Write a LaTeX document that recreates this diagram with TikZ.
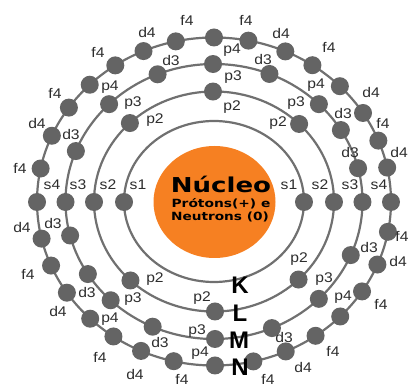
\documentclass[tikz,border=0pt]{standalone}
\usepackage{fontspec}
\usepackage{graphicx}
\setmainfont{Liberation Sans}
\newfontfamily\nucfont{DejaVu Sans}
\usetikzlibrary{shapes.geometric}
\definecolor{orbitgray}{RGB}{112,112,112}
\definecolor{dotgray}{RGB}{100,100,100}
\definecolor{nucorange}{RGB}{246,128,34}
\definecolor{labgray}{RGB}{45,45,45}
\tikzset{
  orbit/.style={draw=orbitgray, line width=2.2pt},
  dot/.style={circle, fill=dotgray, minimum size=18pt, inner sep=0pt},
  lab/.style={inner sep=0pt, text=labgray, font=\fontsize{14}{14}\selectfont},
  shellname/.style={inner sep=0pt, text=black, font=\bfseries\fontsize{24}{24}\selectfont},
  nuctext/.style={inner sep=0pt, text=black},
}
\def\cx{214}
\def\cy{201.5}
% name, rx, ry, x, y, label x, label y, text
\newcommand\elec[8]{%
  \pgfmathsetmacro\eang{atan2((#5-\cy)/#3,(#4-\cx)/#2)}%
  \pgfmathsetmacro\epx{\cx+#2*cos(\eang)}%
  \pgfmathsetmacro\epy{\cy+#3*sin(\eang)}%
  \node[dot] (#1) at (\epx,\epy) {};
  \node[lab] (#1l) at (#6,#7) {\scalebox{1.12}[1]{#8}};
}
\newcommand\Kel[6]{\elec{#1}{90}{80.5}{#2}{#3}{#4}{#5}{#6}}
\newcommand\Lel[6]{\elec{#1}{120}{110}{#2}{#3}{#4}{#5}{#6}}
\newcommand\Mel[6]{\elec{#1}{148.5}{137.5}{#2}{#3}{#4}{#5}{#6}}
\newcommand\Nel[6]{\elec{#1}{177}{164}{#2}{#3}{#4}{#5}{#6}}
\begin{document}
\begin{tikzpicture}[x=1pt,y=-1pt]
\useasboundingbox (0,0) rectangle (412,387);
% orbits
\draw[orbit] (\cx,\cy) ellipse [x radius=90, y radius=80.5];
\draw[orbit] (\cx,\cy) ellipse [x radius=120, y radius=110];
\draw[orbit] (\cx,\cy) ellipse [x radius=148.5, y radius=137.5];
\draw[orbit] (\cx,\cy) ellipse [x radius=177, y radius=164];
% nucleus
\node[ellipse, fill=nucorange, minimum width=122pt, minimum height=112pt, inner sep=0pt] (nucleus) at (214.5,202) {};
\node[nuctext, font=\nucfont\bfseries\fontsize{20.5}{20}\selectfont] (nt1) at (221,184) {\scalebox{1.27}[1]{Núcleo}};
\node[nuctext, font=\nucfont\bfseries\fontsize{11.3}{11}\selectfont] (nt2) at (221,203.5) {\scalebox{1.22}[1]{Prótons(+) e}};
\node[nuctext, font=\nucfont\bfseries\fontsize{11.3}{11}\selectfont] (nt3) at (220,216.5) {\scalebox{1.21}[1]{Neutrons (0)}};
% K shell
\Kel{k1}{125}{202}{138}{185}{s1}
\Kel{k2}{305}{202}{289}{185}{s1}
% L shell
\Lel{l1}{93}{202}{108}{185}{s2}
\Lel{l2}{334}{202}{320}{185}{s2}
\Lel{l3}{213}{92}{232}{107}{p2}
\Lel{l4}{132}{125}{155}{120}{p2}
\Lel{l5}{298}{125}{278}{123}{p2}
\Lel{l6}{132}{279}{155}{279}{p2}
\Lel{l7}{298}{279}{299}{259}{p2}
\Lel{l8}{215}{312}{202}{298}{p2}
% M shell
\Mel{m1}{65}{202}{78}{185}{s3}
\Mel{m2}{362}{202}{350}{185}{s3}
\Mel{m3}{213}{63}{233}{77}{p3}
\Mel{m4}{110}{105}{133}{103}{p3}
\Mel{m5}{157}{73}{171}{60}{d3}
\Mel{m6}{73}{150}{71}{134}{d3}
\Mel{m7}{269}{75}{263}{59}{d3}
\Mel{m8}{318}{105}{296}{103}{p3}
\Mel{m9}{341}{130}{343}{113}{d3}
\Mel{m10}{359}{168}{350}{152}{d3}
\Mel{m11}{68}{236}{53}{223}{d3}
\Mel{m12}{88}{274}{87}{292}{d3}
\Mel{m13}{112}{299}{133}{299}{p3}
\Mel{m14}{153}{326}{160}{342}{d3}
\Mel{m15}{215}{338}{197}{331}{p3}
\Mel{m16}{271}{326}{284}{337}{d3}
\Mel{m17}{319}{299}{324}{279}{p3}
\Mel{m18}{348}{254}{369}{247}{d3}
% N shell
\Nel{n1}{38}{202}{52}{185}{s4}
\Nel{n2}{390}{202}{379}{185}{s4}
\Nel{n3}{214}{36}{232}{50}{p4}
\Nel{n4}{175}{38}{187}{20}{f4}
\Nel{n5}{143}{50}{147}{32}{d4}
\Nel{n6}{115}{65}{98}{52}{f4}
\Nel{n7}{90}{85}{110}{87}{p4}
\Nel{n8}{68}{107}{55}{93}{f4}
\Nel{n9}{50}{135}{37}{123}{d4}
\Nel{n10}{38}{168}{20}{168}{f4}
\Nel{n11}{249}{38}{246}{20}{f4}
\Nel{n12}{286}{50}{281}{33}{d4}
\Nel{n13}{314}{63}{329}{47}{f4}
\Nel{n14}{339}{87}{316}{85}{p4}
\Nel{n15}{363}{113}{371}{92}{d4}
\Nel{n16}{380}{140}{383}{123}{f4}
\Nel{n17}{390}{167}{399}{152}{d4}
\Nel{n18}{40}{239}{22}{227}{d4}
\Nel{n19}{50}{266}{28}{274}{f4}
\Nel{n20}{68}{292}{58}{311}{d4}
\Nel{n21}{92}{317}{110}{319}{p4}
\Nel{n22}{113}{337}{100}{357}{f4}
\Nel{n23}{142}{349}{135}{374}{d4}
\Nel{n24}{173}{364}{182}{379}{f4}
\Nel{n25}{215}{365}{200}{353}{p4}
\Nel{n26}{254}{364}{268}{379}{f4}
\Nel{n27}{286}{352}{303}{367}{d4}
\Nel{n28}{318}{339}{333}{351}{f4}
\Nel{n29}{343}{319}{343}{297}{p4}
\Nel{n30}{363}{292}{381}{304}{f4}
\Nel{n31}{376}{264}{398}{261}{d4}
\Nel{n32}{389}{232}{402}{236}{f4}
% shell names
\node[shellname] (K) at (240,285) {K};
\node[shellname] (L) at (240,313) {L};
\node[shellname] (M) at (239,340) {M};
\node[shellname] (N) at (240,367) {N};
\end{tikzpicture}
\end{document}
